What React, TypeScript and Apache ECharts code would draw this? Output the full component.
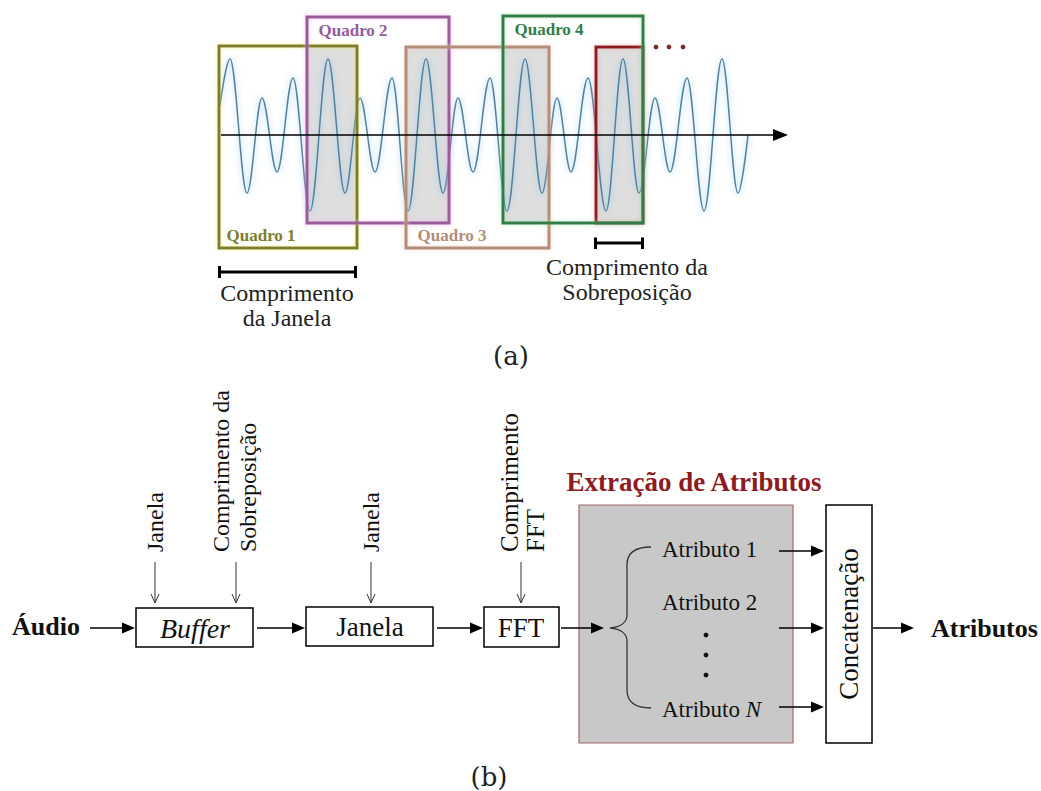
import React, { useEffect, useRef } from 'react';
import * as echarts from 'echarts';

// ---- (a) waveform: extrema (x = sample position, y = amplitude)
const WAVE_X = [1, 11, 28, 43, 58, 74, 91, 109, 126, 141, 156, 173, 189, 207, 224, 239, 254, 271, 288, 306, 323, 338, 352, 369, 387, 404, 420, 436, 451, 468, 485, 503, 519, 529];
const WAVE_Y = [30, 76, -58, 37, -37, 57, -76, 76, -58, 37, -37, 57, -76, 76, -58, 37, -37, 57, -76, 76, -58, 37, -37, 57, -76, 76, -58, 37, -37, 57, -76, 76, -58, 0];

// frames (windows) in the same sample units
const FRAME_NAMES = ['Quadro 1', 'Quadro 2', 'Quadro 3', 'Quadro 4'];
const FRAME_START = [0, 88, 187, 284];
const FRAME_END = [138, 230, 330, 424];
const FRAME_LOW = [-113, -88, -113, -88];
const FRAME_HIGH = [89, 118, 88, 119];
const FRAME_COLORS = ['#7e7e2c', '#985b99', '#b28e7a', '#337d47'];
const FRAME_GLOWS = ['rgba(235,235,120,0.7)', 'rgba(240,170,235,0.7)', 'rgba(240,200,180,0.7)', 'rgba(150,225,170,0.7)'];
const FRAME_LABEL_POS = ['insideBottomLeft', 'insideTopLeft', 'insideBottomLeft', 'insideTopLeft'];
const NEXT_FRAME = { start: 377, end: 424, low: -88, high: 88, color: '#8c1c24' };
const OVERLAP_START = [88, 187, 284, 377];
const OVERLAP_END = [138, 230, 330, 424];

// ---- texts
const WINDOW_LABEL = ['Comprimento', 'da Janela'];
const OVERLAP_LABEL = ['Comprimento da', 'Sobreposição'];
const BLOCKS = ['Buffer', 'Janela', 'FFT'];
const ATTRS = ['Atributo 1', 'Atributo 2'];

const SERIF = "'Liberation Serif', 'Times New Roman', serif";
const BRACE_D = 'M 651 547 C 636 547 627 552 627 565 L 627 615 C 627 622 621 627 610 628 C 621 629 627 634 627 641 L 627 690 C 627 703 636 708 651 708';
echarts.graphic.registerShape('brace', echarts.graphic.extendPath(BRACE_D, {}));

function arrowH(x1: number, x2: number, y: number) {
  return [
    { type: 'line', z: 18, shape: { x1, y1: y, x2: x2 - 11, y2: y }, style: { stroke: '#000', lineWidth: 1.5 } },
    { type: 'polygon', z: 18, shape: { points: [[x2 - 13, y - 5.5], [x2, y], [x2 - 13, y + 5.5]] }, style: { fill: '#000' } },
  ];
}
function arrowV(x: number, y1: number, y2: number) {
  return [
    { type: 'line', shape: { x1: x, y1, x2: x, y2 }, style: { stroke: '#333', lineWidth: 1 } },
    { type: 'polyline', shape: { points: [[x - 4, y2 - 9], [x, y2], [x + 4, y2 - 9]] }, style: { stroke: '#333', lineWidth: 1, fill: 'none' } },
  ];
}
function txt(text: string, x: number, y: number, size: number, extra: any = {}, rot = 0) {
  return {
    type: 'text', x, y, rotation: rot, z: 20,
    style: { text, fontFamily: SERIF, fontSize: size, fill: '#111', align: 'center', verticalAlign: 'middle', ...extra },
  };
}
function box(x: number, y: number, w: number, h: number, fill = '#fff', stroke = '#000', lw = 1.5) {
  return { type: 'rect', z: 5, shape: { x, y, width: w, height: h }, style: { fill, stroke, lineWidth: lw } };
}

export default function App() {
  const ref = useRef<HTMLDivElement>(null);
  useEffect(() => {
    if (!ref.current) return;
    const chart = echarts.init(ref.current, undefined, { renderer: 'svg' });

    const overlapAreas = OVERLAP_START.map((s, i) => [
      { xAxis: s, yAxis: -88 },
      { xAxis: OVERLAP_END[i], yAxis: 89 },
    ]);
    const frameAreas: any[] = [
      [
        {
          name: '', xAxis: NEXT_FRAME.start, yAxis: NEXT_FRAME.low,
          itemStyle: { color: 'rgba(0,0,0,0)', borderColor: NEXT_FRAME.color, borderWidth: 3, shadowColor: 'rgba(240,150,150,0.6)', shadowBlur: 4 },
          label: { show: false },
        },
        { xAxis: NEXT_FRAME.end, yAxis: NEXT_FRAME.high },
      ],
      ...FRAME_NAMES.map((n, i) => [
        {
          name: n, xAxis: FRAME_START[i], yAxis: FRAME_LOW[i],
          itemStyle: { color: 'rgba(0,0,0,0)', borderColor: FRAME_COLORS[i], borderWidth: 3, shadowColor: FRAME_GLOWS[i], shadowBlur: 4 },
          label: {
            show: true, position: FRAME_LABEL_POS[i], distance: 6, offset: [i === 0 ? 3 : 7, 0],
            color: FRAME_COLORS[i], fontWeight: 'bold', fontSize: 17, fontFamily: SERIF,
          },
        },
        { xAxis: FRAME_END[i], yAxis: FRAME_HIGH[i] },
      ]),
    ];

    const g: any[] = [];
    // axis of (a)
    g.push({ type: 'line', z: 15, shape: { x1: 221, y1: 135, x2: 776, y2: 135 }, style: { stroke: '#000', lineWidth: 1.6 } });
    g.push({ type: 'polygon', z: 15, shape: { points: [[773, 129], [788, 135], [773, 141]] }, style: { fill: '#000' } });
    // next frames dots
    [656, 669, 683].forEach((x) => g.push({ type: 'circle', shape: { cx: x, cy: 47, r: 2.4 }, style: { fill: '#7a2a2a' } }));
    // window length bar
    g.push({ type: 'line', shape: { x1: 219, y1: 272, x2: 356, y2: 272 }, style: { stroke: '#000', lineWidth: 3 } });
    g.push({ type: 'line', shape: { x1: 219.5, y1: 266, x2: 219.5, y2: 278 }, style: { stroke: '#000', lineWidth: 3 } });
    g.push({ type: 'line', shape: { x1: 355.5, y1: 266, x2: 355.5, y2: 278 }, style: { stroke: '#000', lineWidth: 3 } });
    // overlap bar
    g.push({ type: 'line', shape: { x1: 595, y1: 243, x2: 643, y2: 243 }, style: { stroke: '#000', lineWidth: 3 } });
    g.push({ type: 'line', shape: { x1: 595.5, y1: 237.5, x2: 595.5, y2: 249 }, style: { stroke: '#000', lineWidth: 3 } });
    g.push({ type: 'line', shape: { x1: 642.5, y1: 237.5, x2: 642.5, y2: 249 }, style: { stroke: '#000', lineWidth: 3 } });
    g.push(txt(WINDOW_LABEL[0], 287, 293, 24, { fill: '#222' }));
    g.push(txt(WINDOW_LABEL[1], 287, 318, 24, { fill: '#222' }));
    g.push(txt(OVERLAP_LABEL[0], 627, 267, 24, { fill: '#222' }));
    g.push(txt(OVERLAP_LABEL[1], 627, 292, 24, { fill: '#222' }));
    g.push(txt('(a)', 511, 356, 26, { fill: '#222', fontFamily: "'DejaVu Serif', serif" }));

    // ---- (b)
    g.push(txt('Áudio', 12, 626, 26, { fontWeight: 'bold', align: 'left' }));
    g.push(...arrowH(90, 135, 628));
    g.push(box(136, 608, 117, 39));
    g.push(txt(BLOCKS[0], 195, 628, 28, { fontStyle: 'italic' }));
    g.push(...arrowH(257, 305, 628));
    g.push(box(306, 607, 127, 39));
    g.push(txt(BLOCKS[1], 370, 627, 27));
    g.push(...arrowH(437, 483, 628));
    g.push(box(484, 607, 75, 40));
    g.push(txt(BLOCKS[2], 521, 628, 27));

    // parameter inputs
    g.push(...arrowV(155, 562, 603));
    g.push(...arrowV(236, 562, 603));
    g.push(...arrowV(371, 562, 603));
    g.push(...arrowV(521, 562, 603));
    const R = Math.PI / 2;
    g.push(txt('Janela', 155, 552, 24, { align: 'left' }, R));
    g.push(txt('Comprimento da', 221, 552, 24, { align: 'left' }, R));
    g.push(txt('Sobreposição', 248, 552, 24, { align: 'left' }, R));
    g.push(txt('Janela', 371, 552, 24, { align: 'left' }, R));
    g.push(txt('Comprimento', 509, 552, 25, { align: 'left' }, R));
    g.push(txt('FFT', 535, 552, 25, { align: 'left' }, R));

    // feature extraction block
    g.push(txt('Extração de Atributos', 694, 482, 27, { fontWeight: 'bold', fill: '#8e1b22' }));
    g.push(box(579, 505, 214, 238, '#c8c8c8', '#a26a6a', 1.2));
    g.push(...arrowH(561, 604, 628));
    g.push({ type: 'brace', z: 12, x: 0, y: 0, style: { stroke: '#333', lineWidth: 1.3, fill: 'none' } });
    g.push(txt(ATTRS[0], 662, 549, 23, { align: 'left' }));
    g.push(txt(ATTRS[1], 662, 602, 23, { align: 'left' }));
    g.push({
      type: 'text', x: 662, y: 709, z: 20,
      style: {
        text: '{a|Atributo }{n|N}', align: 'left', verticalAlign: 'middle',
        rich: {
          a: { fontFamily: SERIF, fontSize: 23, fill: '#111' },
          n: { fontFamily: SERIF, fontSize: 23, fontStyle: 'italic', fill: '#111' },
        },
      },
    });
    [635, 655, 675].forEach((y) => g.push({ type: 'circle', z: 20, shape: { cx: 706, cy: y, r: 2.4 }, style: { fill: '#111' } }));
    g.push(...arrowH(779, 824, 551));
    g.push(...arrowH(779, 824, 628));
    g.push(...arrowH(779, 824, 707));
    g.push(box(826, 505, 46, 238));
    g.push(txt('Concatenação', 849, 624, 27, {}, R));
    g.push(...arrowH(873, 914, 628));
    g.push(txt('Atributos', 931, 628, 26, { fontWeight: 'bold', align: 'left' }));
    g.push(txt('(b)', 489, 777, 26, { fill: '#222', fontFamily: "'DejaVu Serif', serif" }));

    const option: any = {
      animation: false,
      backgroundColor: '#ffffff',
      grid: { left: 219, top: 0, width: 568, height: 270 },
      xAxis: { type: 'value', min: 0, max: 568, show: false },
      yAxis: { type: 'value', min: -135, max: 135, show: false },
      series: [
        {
          type: 'line',
          data: WAVE_X.map((x, i) => [x, WAVE_Y[i]]),
          smooth: 0.36,
          smoothMonotone: 'x',
          symbol: 'none',
          z: 3,
          lineStyle: { color: '#56809b', width: 1.5, shadowColor: 'rgba(110,190,235,0.8)', shadowBlur: 6 },
          markArea: { silent: true, z: 1, itemStyle: { color: '#dedede' }, data: overlapAreas },
        },
        {
          type: 'line',
          data: [],
          symbol: 'none',
          z: 6,
          markArea: { silent: true, z: 10, data: frameAreas },
        },
      ],
      graphic: { elements: g },
    };
    chart.setOption(option);
    return () => chart.dispose();
  }, []);
  return <div ref={ref} style={{ position: 'absolute', left: 0, top: 0, width: 1041, height: 791, background: '#fff' }} />;
}
